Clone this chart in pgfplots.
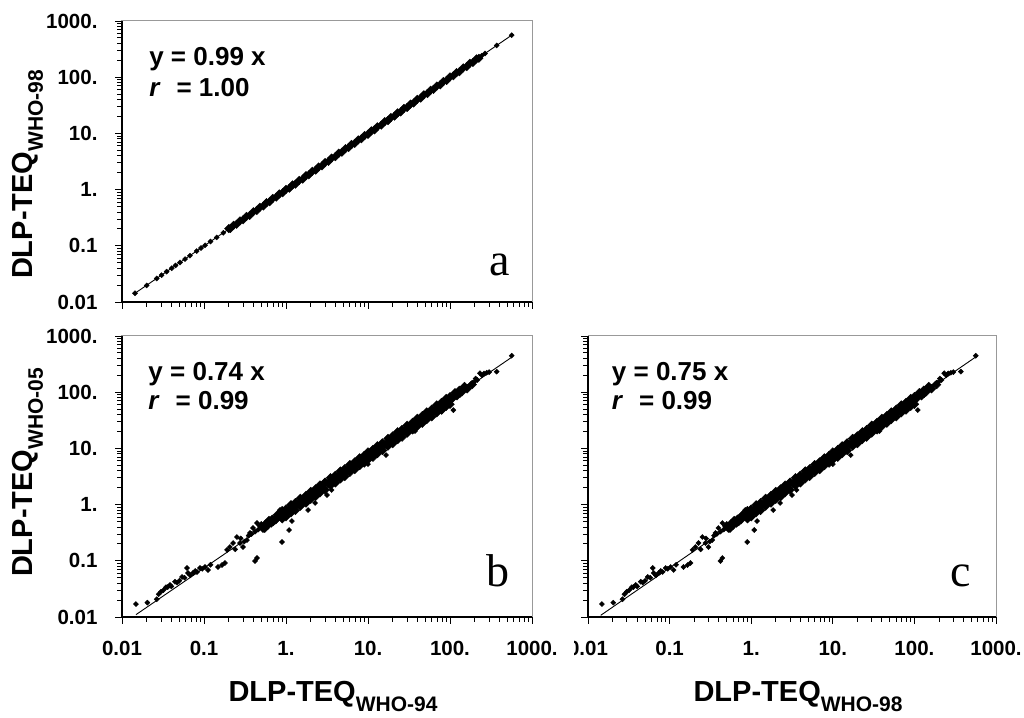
\documentclass[border=0pt]{standalone}
\usepackage{fontspec}
\setmainfont{Liberation Sans}
\newfontfamily\serifA{Liberation Serif}
\usepackage{pgfplots}
\usepackage{pgfplotstable}
\pgfplotsset{compat=1.18}

\newcommand{\sub}[1]{\raisebox{-10pt}{\fontsize{21}{21}\selectfont #1}}
\newcommand{\lab}{\fontsize{29}{29}\selectfont\bfseries}
\newcommand{\eqf}{\fontsize{26}{26}\selectfont\bfseries}
\newcommand{\letf}{\serifA\fontsize{46}{46}\selectfont}

% panel a: WHO-98 vs WHO-94
\pgfplotstableread[row sep=\\]{
x y\\
0.2 0.202\\ 0.21 0.203\\ 0.23 0.232\\ 0.25 0.241\\ 0.275 0.278\\ 0.30 0.290\\ 0.33 0.333\\
0.36 0.347\\ 0.40 0.404\\ 0.44 0.425\\ 0.48 0.485\\ 0.53 0.511\\ 0.58 0.586\\ 0.63 0.608\\
0.69 0.697\\ 0.76 0.733\\ 0.83 0.838\\ 0.91 0.878\\ 1.0 1.01\\ 1.1 1.06\\ 1.2 1.21\\ 1.3 1.25\\
1.45 1.46\\ 1.6 1.54\\ 1.75 1.77\\ 1.9 1.83\\ 2.1 2.12\\ 2.3 2.22\\ 2.5 2.53\\ 2.75 2.65\\
3.0 3.03\\ 3.3 3.18\\ 3.6 3.64\\ 4.0 3.86\\ 4.4 4.44\\ 4.8 4.63\\ 5.3 5.35\\ 5.8 5.60\\
6.3 6.36\\ 6.9 6.66\\ 7.6 7.68\\ 8.3 8.01\\ 9.1 9.19\\ 10 9.65\\ 11 11.1\\ 12 11.6\\ 13 13.1\\
14.5 14.0\\ 16 16.2\\ 17.5 16.9\\ 19 19.2\\ 21 20.3\\ 23 23.2\\ 25 24.1\\ 27.5 27.8\\ 30 29.0\\
33 33.3\\ 36 34.7\\ 40 40.4\\ 44 42.5\\ 48 48.5\\ 53 51.1\\ 58 58.6\\ 63 60.8\\ 69 69.7\\
76 73.3\\ 83 83.8\\ 91 87.8\\ 100 101\\ 110 106\\ 120 121\\ 130 125\\ 145 146\\ 160 154\\
175 177\\ 190 183\\ 210 212\\ 225 217\\
}\bandA

\pgfplotstableread[row sep=\\]{
x y\\
0.0144 0.0143\\ 0.0200 0.0197\\ 0.0265 0.0262\\ 0.0304 0.0300\\ 0.035 0.0347\\ 0.0404 0.0399\\
0.045 0.0447\\ 0.051 0.0505\\ 0.0587 0.058\\ 0.0674 0.0668\\ 0.0814 0.0805\\ 0.092 0.0912\\
0.103 0.102\\ 0.12 0.119\\ 0.143 0.141\\ 0.172 0.170\\
244 242\\ 267 264\\ 371 367\\ 565 559\\
}\scatA

% panels b and c: dense band, three rows
\pgfplotstableread[row sep=\\]{
x y\\
0.5 0.42\\ 0.56 0.45\\ 0.62 0.52\\ 0.68 0.55\\ 0.55 0.38\\ 0.6 0.43\\ 0.66 0.47\\ 0.7 0.50\\
0.79 0.66\\ 0.9 0.78\\ 1.0 0.83\\ 1.15 0.99\\ 1.3 1.08\\ 1.5 1.29\\ 1.75 1.45\\ 2.0 1.71\\
2.3 1.90\\ 2.6 2.22\\ 3.0 2.50\\ 3.5 3.00\\ 4.0 3.32\\ 4.6 3.95\\ 5.2 4.32\\ 6.0 5.13\\
6.9 5.73\\ 7.9 6.76\\ 9.0 7.47\\ 10 8.6\\ 11.5 9.5\\ 13 11.1\\ 15 12.5\\ 17.5 15.0\\
20 16.6\\ 23 19.7\\ 26 21.6\\ 30 25.7\\ 35 29.0\\ 40 34.2\\ 46 38.2\\ 52 44.5\\ 60 49.8\\
69 59.0\\ 79 65.6\\ 90 77.0\\ 100 83\\ 115 98\\ 130 108\\ 150 126\\
0.75 0.54\\ 0.85 0.62\\ 0.96 0.68\\ 1.07 0.78\\ 1.22 0.87\\ 1.4 1.02\\ 1.62 1.15\\ 1.87 1.36\\
2.15 1.53\\ 2.45 1.78\\ 2.8 1.99\\ 3.25 2.37\\ 3.75 2.66\\ 4.3 3.14\\ 4.9 3.48\\ 5.6 4.09\\
6.45 4.58\\ 7.4 5.40\\ 8.45 6.00\\ 9.6 7.01\\ 10.7 7.60\\ 12.2 8.91\\ 14 9.94\\ 16.2 11.8\\
18.7 13.3\\ 21.5 15.7\\ 24.5 17.4\\ 28 20.4\\ 32.5 23.1\\ 37.5 27.4\\ 43 30.5\\ 49 35.8\\
56 39.8\\ 64.5 47.1\\ 74 52.5\\ 84.5 61.7\\ 96 68.2\\ 107 78.1\\ 122 86.6\\ 140 102\\
162 115\\ 187 137\\
0.9 0.56\\ 1.0 0.61\\ 1.15 0.72\\ 1.3 0.79\\ 1.5 0.94\\ 1.75 1.07\\ 2.0 1.25\\ 2.3 1.40\\
2.6 1.63\\ 3.0 1.83\\ 3.5 2.19\\ 4.0 2.44\\ 4.6 2.88\\ 5.2 3.17\\ 6.0 3.76\\ 6.9 4.21\\
7.9 4.95\\ 9.0 5.49\\ 10 6.3\\ 11.5 7.0\\ 13 8.1\\ 15 9.2\\ 17.5 11.0\\ 20 12.2\\ 23 14.4\\
26 15.9\\ 30 18.8\\ 35 21.4\\ 40 25.0\\ 46 28.1\\ 52 32.6\\ 60 36.6\\ 69 43.2\\ 79 48.2\\
90 56.3\\ 100 61\\
}\bandB

% panels b and c: scattered points (low range, outliers, top end)
\pgfplotstableread[row sep=\\]{
x y\\
0.0148 0.0170\\ 0.0204 0.0180\\ 0.0265 0.0207\\ 0.0280 0.0254\\ 0.0299 0.0282\\ 0.0320 0.0300\\
0.0344 0.0338\\ 0.0360 0.0340\\ 0.0385 0.0372\\ 0.0400 0.0350\\ 0.0443 0.0425\\ 0.0470 0.0410\\
0.0500 0.0440\\ 0.0540 0.0515\\ 0.0580 0.0500\\ 0.0621 0.0745\\ 0.0638 0.0607\\ 0.0680 0.0550\\
0.0735 0.0607\\ 0.0780 0.0660\\ 0.0822 0.0632\\ 0.0893 0.0745\\ 0.0950 0.0720\\ 0.1028 0.0776\\
0.112 0.0685\\ 0.120 0.0850\\ 0.148 0.0776\\ 0.166 0.0841\\ 0.180 0.0914\\ 0.191 0.156\\
0.207 0.176\\ 0.226 0.207\\ 0.240 0.160\\ 0.252 0.265\\ 0.275 0.207\\ 0.280 0.250\\
0.299 0.176\\ 0.310 0.220\\ 0.334 0.234\\ 0.350 0.280\\ 0.364 0.313\\ 0.380 0.300\\
0.396 0.384\\ 0.420 0.330\\ 0.443 0.471\\ 0.460 0.360\\ 0.500 0.410\\ 0.525 0.353\\
0.550 0.440\\ 0.586 0.471\\ 0.600 0.500\\ 0.650 0.520\\ 0.693 0.578\\ 0.720 0.550\\
0.760 0.620\\ 0.845 0.802\\
0.443 0.112\\ 0.419 0.099\\ 0.893 0.216\\ 1.09 0.353\\ 1.18 0.51\\ 1.86 0.80\\ 2.26 1.07\\
3.16 1.48\\ 3.6 1.82\\ 10 5.25\\ 16.6 7.6\\ 37.4 20.4\\ 110 48\\ 132 89\\
165 125\\ 180 140\\ 195 150\\ 205 175\\ 215 165\\ 232 217\\ 245 200\\ 260 215\\ 280 222\\
300 228\\ 371 232\\ 565 446\\
}\scatB

\pgfplotsset{
  rbpanel/.style={
    scale only axis,
    xmin=0.01, xmax=1000, ymin=0.01, ymax=1000,
    axis lines*=left,
    axis line style={black, line width=1.2pt},
    axis background/.style={draw=black!40, line width=1pt},
    tick align=outside, major tick length=7pt, minor tick length=5pt,
    tick style={black, line width=0.9pt},
    xtick={0.01,0.1,1,10,100,1000}, ytick={0.01,0.1,1,10,100,1000},
    minor xtick={0.02,0.03,0.04,0.05,0.06,0.07,0.08,0.09,0.2,0.3,0.4,0.5,0.6,0.7,0.8,0.9,
      2,3,4,5,6,7,8,9,20,30,40,50,60,70,80,90,200,300,400,500,600,700,800,900},
    minor ytick={0.02,0.03,0.04,0.05,0.06,0.07,0.08,0.09,0.2,0.3,0.4,0.5,0.6,0.7,0.8,0.9,
      2,3,4,5,6,7,8,9,20,30,40,50,60,70,80,90,200,300,400,500,600,700,800,900},
    xticklabels={0.01,0.1,1.,10.,100.,1000.},
    yticklabels={0.01,0.1,1.,10.,100.,1000.},
    ticklabel style={font=\fontsize{20.5}{20.5}\selectfont\bfseries},
    xticklabel style={yshift=-14pt},
    yticklabel style={xshift=-14pt},
    clip=false,
  },
  rbpts/.style={only marks, mark=square*, mark size=1.8pt,
    mark options={rotate=45, draw=black, fill=black}},
  rbfit/.style={no marks, black, line width=0.9pt},
}

\begin{document}
\begin{tikzpicture}
\useasboundingbox (0pt,0pt) rectangle (1024pt,717pt);

% c
\begin{loglogaxis}[rbpanel, at={(588pt,100pt)}, anchor=south west,
  width=408pt, height=281pt, yticklabels={}]
\addplot[rbpts, mark size=3.1pt] table {\bandB};
\addplot[rbpts] table {\scatB};
\addplot[rbfit] coordinates {(0.0143,0.0107) (569,427)};
\node[anchor=base west, font=\eqf] at (rel axis cs:0.05,0.843) {y = 0.75 x};
\node[anchor=base west, font=\eqf] at (rel axis cs:0.05,0.737) {\textit{r}\,\, = 0.99};
\node[anchor=base east, font=\letf] at (rel axis cs:0.948,0.11) {c};
\node[anchor=base, font=\lab] at ([xshift=6pt, yshift=-84pt]rel axis cs:0.5,0) {DLP-TEQ\sub{WHO-98}};
\end{loglogaxis}

\fill[white] (538pt,50pt) rectangle (574pt,92pt);

% a
\begin{loglogaxis}[rbpanel, at={(122pt,415pt)}, anchor=south west,
  width=410pt, height=281pt, xticklabels={}]
\addplot[rbpts, mark size=3.0pt] table {\bandA};
\addplot[rbpts] table {\scatA};
\addplot[rbfit] coordinates {(0.0144,0.0143) (565,559)};
\node[anchor=base west, font=\eqf] at (rel axis cs:0.058,0.843) {y = 0.99 x};
\node[anchor=base west, font=\eqf] at (rel axis cs:0.058,0.730) {\textit{r}\,\, = 1.00};
\node[anchor=base east, font=\letf] at (rel axis cs:0.954,0.093) {a};
\node[rotate=90, anchor=base, font=\lab] at ([xshift=-89pt, yshift=-13pt]rel axis cs:0,0.5) {DLP-TEQ\sub{WHO-98}};
\end{loglogaxis}

% b
\begin{loglogaxis}[rbpanel, at={(122pt,100pt)}, anchor=south west,
  width=410pt, height=281pt]
\addplot[rbpts, mark size=3.1pt] table {\bandB};
\addplot[rbpts] table {\scatB};
\addplot[rbfit] coordinates {(0.0148,0.011) (565,418)};
\node[anchor=base west, font=\eqf] at (rel axis cs:0.056,0.843) {y = 0.74 x};
\node[anchor=base west, font=\eqf] at (rel axis cs:0.056,0.737) {\textit{r}\,\, = 0.99};
\node[anchor=base east, font=\letf] at (rel axis cs:0.954,0.11) {b};
\node[rotate=90, anchor=base, font=\lab] at ([xshift=-89pt, yshift=4pt]rel axis cs:0,0.5) {DLP-TEQ\sub{WHO-05}};
\node[anchor=base, font=\lab] at ([xshift=6pt, yshift=-84pt]rel axis cs:0.5,0) {DLP-TEQ\sub{WHO-94}};
\end{loglogaxis}
\end{tikzpicture}
\end{document}
